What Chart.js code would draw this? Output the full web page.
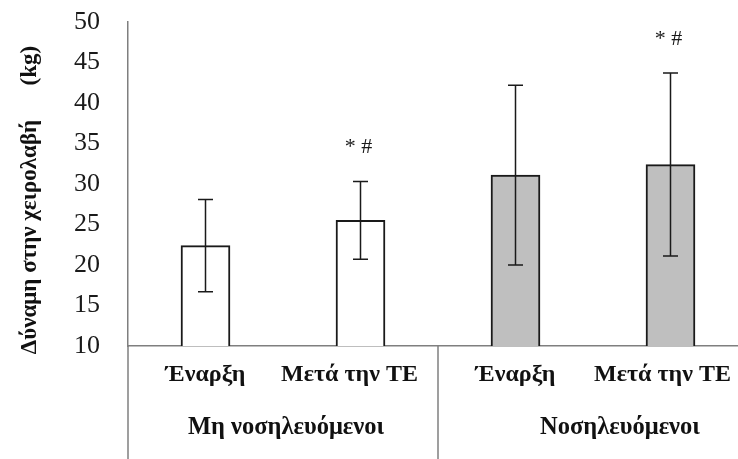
<!DOCTYPE html>
<html>
<head>
<meta charset="utf-8">
<script src="https://cdn.jsdelivr.net/npm/chart.js@4/dist/chart.umd.min.js"></script>
<style>
  html, body { margin: 0; padding: 0; background: #fff; overflow: hidden; width: 738px; height: 459px; }
  #wrap { position: relative; width: 748px; height: 459px; }
</style>
</head>
<body>
<div id="wrap"><canvas id="chart" width="748" height="459"></canvas></div>
<script>
// Handgrip strength (kg), mean ± SD, by group and time point
const categories = ['Έναρξη', 'Μετά την ΤΕ', 'Έναρξη', 'Μετά την ΤΕ'];
const groups = ['Μη νοσηλευόμενοι', 'Νοσηλευόμενοι'];
const groupOf = [0, 0, 1, 1];
const means = [22.4, 25.5, 31.1, 32.4];
const sds = [5.7, 4.8, 11.1, 11.3];
const marks = ['', '* #', '', '* #'];
const barFills = ['#ffffff', '#ffffff', '#bfbfbf', '#bfbfbf'];
const yTitle = 'Δύναμη στην χειρολαβή      (kg)';
const yMin = 10, yMax = 50, yStep = 5;

const SERIF = '"Liberation Serif", "Times New Roman", serif';
const AXIS_GREY = '#7f7f7f';
// small horizontal nudges for the label rows (drawing style only)
const catLabelDx = [0, -11, 0, -8];
const groupLabelDx = [3, 27];

const decorations = {
  id: 'decorations',
  afterDatasetsDraw(chart) {
    const ctx = chart.ctx;
    const ys = chart.scales.y;
    const area = chart.chartArea;
    const bars = chart.getDatasetMeta(0).data;
    const H = chart.height;

    ctx.save();
    // error bars
    ctx.strokeStyle = '#1a1a1a';
    ctx.lineWidth = 1.5;
    bars.forEach((bar, i) => {
      const x = bar.x;
      const yt = ys.getPixelForValue(means[i] + sds[i]);
      const yb = ys.getPixelForValue(means[i] - sds[i]);
      ctx.beginPath();
      ctx.moveTo(x, yt); ctx.lineTo(x, yb);
      ctx.moveTo(x - 7.5, yt); ctx.lineTo(x + 7.5, yt);
      ctx.moveTo(x - 7.5, yb); ctx.lineTo(x + 7.5, yb);
      ctx.stroke();
      if (marks[i]) {
        ctx.fillStyle = '#1a1a1a';
        ctx.font = '22px ' + SERIF;
        ctx.textAlign = 'center';
        ctx.textBaseline = 'middle';
        ctx.fillText(marks[i], x - 2, yt - 34);
      }
    });

    // axis extensions and group separators below the plot
    ctx.strokeStyle = AXIS_GREY;
    ctx.lineWidth = 1.5;
    const seps = [area.left];
    for (let i = 1; i < bars.length; i++) {
      if (groupOf[i] !== groupOf[i - 1]) seps.push((bars[i].x + bars[i - 1].x) / 2);
    }
    seps.push(area.right);
    seps.forEach(sx => {
      ctx.beginPath();
      ctx.moveTo(sx, area.bottom); ctx.lineTo(sx, H);
      ctx.stroke();
    });

    // category labels
    ctx.fillStyle = '#111';
    ctx.textAlign = 'center';
    ctx.textBaseline = 'middle';
    ctx.font = 'bold 24px ' + SERIF;
    bars.forEach((bar, i) => ctx.fillText(categories[i], bar.x + catLabelDx[i], area.bottom + 29));

    // group labels
    ctx.font = 'bold 24.5px ' + SERIF;
    groups.forEach((g, gi) => {
      const l = seps[gi], r = seps[gi + 1];
      ctx.fillText(g, (l + r) / 2 + groupLabelDx[gi], area.bottom + 82);
    });

    // y axis title
    ctx.font = 'bold 23px ' + SERIF;
    ctx.translate(30, 200);
    ctx.rotate(-Math.PI / 2);
    ctx.fillText(yTitle, 0, 0);
    ctx.restore();
  }
};

new Chart(document.getElementById('chart'), {
  type: 'bar',
  data: {
    labels: categories,
    datasets: [{
      data: means,
      backgroundColor: barFills,
      borderColor: '#1a1a1a',
      borderWidth: 2,
      borderSkipped: false,
      barThickness: 49
    }]
  },
  options: {
    responsive: false,
    animation: false,
    devicePixelRatio: 1,
    layout: { padding: { left: 0, top: 22, right: 0, bottom: 113 } },
    plugins: { legend: { display: false }, tooltip: { enabled: false } },
    scales: {
      x: {
        ticks: { display: false },
        grid: { display: false, drawTicks: false },
        border: { display: true, color: AXIS_GREY, width: 1.5 },
        afterFit(s) { s.height = 0; }
      },
      y: {
        min: yMin, max: yMax,
        ticks: { stepSize: yStep, color: '#1a1a1a', padding: 28, font: { family: SERIF, size: 26 } },
        grid: { display: false, drawTicks: false },
        border: { display: true, color: AXIS_GREY, width: 1.5 },
        afterFit(s) { s.width = 128; s.paddingTop = 0; s.paddingBottom = 0; }
      }
    }
  },
  plugins: [decorations]
});
</script>
</body>
</html>
